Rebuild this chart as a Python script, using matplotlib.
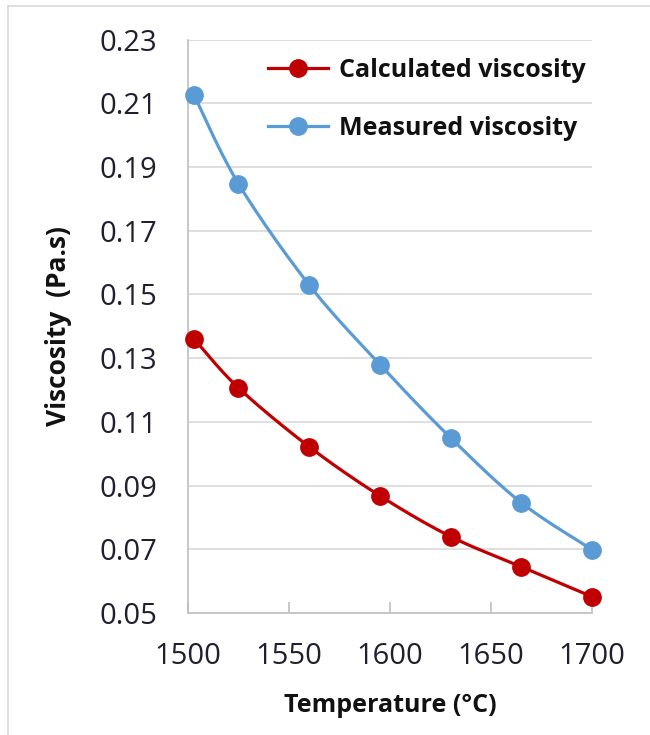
import numpy as np
import matplotlib
matplotlib.use("Agg")
from matplotlib import pyplot as plt
from matplotlib.lines import Line2D

# data
temp = [1503, 1525, 1560, 1595, 1630, 1665, 1700]
calculated = [0.1361, 0.1207, 0.1022, 0.0868, 0.0740, 0.0645, 0.0551]
measured = [0.2127, 0.1848, 0.1530, 0.1280, 0.1050, 0.0846, 0.0699]
x_ticks = [1500, 1550, 1600, 1650, 1700]
y_ticks = [0.05, 0.07, 0.09, 0.11, 0.13, 0.15, 0.17, 0.19, 0.21, 0.23]


def smooth(xs, ys, n=30):
    # Catmull-Rom curve through the points, like Excel's smoothed line
    p = np.column_stack([xs, ys]).astype(float)
    p = np.vstack([p[0], p, p[-1]])
    out = []
    t = np.linspace(0, 1, n)[:, None]
    for i in range(1, len(p) - 2):
        p0, p1, p2, p3 = p[i - 1], p[i], p[i + 1], p[i + 2]
        seg = 0.5 * ((2 * p1) + (-p0 + p2) * t + (2 * p0 - 5 * p1 + 4 * p2 - p3) * t ** 2
                     + (-p0 + 3 * p1 - 3 * p2 + p3) * t ** 3)
        out.append(seg)
    out = np.vstack(out)
    return out[:, 0], out[:, 1]


plt.rcParams['font.family'] = ['Open Sans', 'DejaVu Sans']

fig = plt.figure(figsize=(6.5, 7.35), dpi=100)
ax = fig.add_axes([0.289, 0.166, 0.622, 0.780])

red = '#C00000'
blue = '#5B9BD5'
txt = '#1f1f2f'

for ys, c, lab in [(calculated, red, 'Calculated viscosity'), (measured, blue, 'Measured viscosity')]:
    sx, sy = smooth(temp, ys)
    ax.plot(sx, sy, color=c, lw=2.3, zorder=3)
    ax.plot(temp, ys, 'o', color=c, ms=12.5, zorder=4, clip_on=False)
    ax.plot([], [], '-o', color=c, lw=2.3, ms=12.5, label=lab)

ax.set_xlim(1500, 1700)
ax.set_ylim(0.05, 0.23)
ax.set_xticks(x_ticks)
ax.set_yticks(y_ticks)
ax.set_yticklabels([f'{v:.2f}' for v in y_ticks])
ax.yaxis.grid(True, color='#D9D9D9', lw=1.2)
ax.set_axisbelow(True)
ax.tick_params(axis='y', length=0, pad=22, labelsize=21, labelcolor=txt)
ax.tick_params(axis='x', direction='in', length=8, color='#BFBFBF', width=1.2,
               pad=21, labelsize=21, labelcolor=txt)
for s in ['top', 'right']:
    ax.spines[s].set_visible(False)
for s in ['left', 'bottom']:
    ax.spines[s].set_color('#BFBFBF')
    ax.spines[s].set_linewidth(1.2)

ax.set_xlabel('Temperature (°C)', fontsize=18, fontweight='bold', labelpad=16, color='#111111')
ax.set_ylabel('Viscosity  (Pa.s)', fontsize=19, fontweight='bold', labelpad=20, color='#111111')

leg = ax.legend(loc='upper left', bbox_to_anchor=(0.198, 0.968), frameon=False,
                borderaxespad=0, borderpad=0,
                prop={'size': 18, 'weight': 'bold'}, handlelength=2.4,
                labelspacing=1.3, handletextpad=0.45)
for t in leg.get_texts():
    t.set_color('#111111')

# image border on top and left, as in the screenshot
fig.add_artist(Line2D([0.012, 0.012], [0, 0.992], transform=fig.transFigure, color='#D9D9D9', lw=1.2))
fig.add_artist(Line2D([0.012, 1], [0.992, 0.992], transform=fig.transFigure, color='#D9D9D9', lw=1.2))

fig.savefig('out.png', dpi=100)
